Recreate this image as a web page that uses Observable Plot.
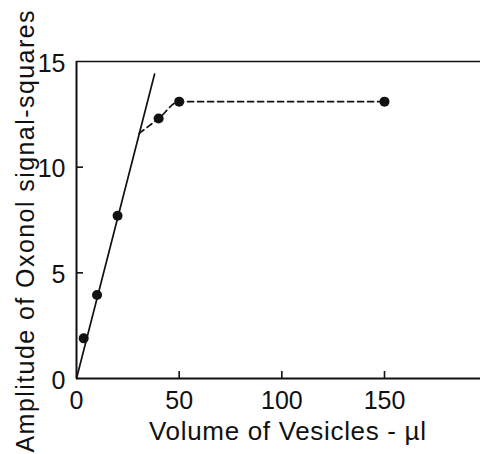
<!DOCTYPE html>
<html>
<head>
<meta charset="utf-8">
<script src="https://cdn.jsdelivr.net/npm/d3@7"></script>
<script src="https://cdn.jsdelivr.net/npm/@observablehq/plot@0.6"></script>
<style>
  html, body { margin: 0; padding: 0; background: #fff; }
</style>
</head>
<body>
<div id="chart"></div>
<script>
// Measured points: vesicle volume (µl) vs. oxonol signal amplitude
const volume = [3.5, 10, 20, 40, 50, 150];
const amplitude = [1.9, 3.95, 7.7, 12.3, 13.1, 13.1];

// Initial linear rise (solid line)
const fitVolume = [0, 38];
const fitAmplitude = [0, 14.4];

// Saturation curve (dashed)
const satVolume = [30.5, 40, 50, 150];
const satAmplitude = [11.6, 12.3, 13.1, 13.1];

// Axis ticks
const xTicks = [0, 50, 100, 150];
const yTicks = [0, 5, 10, 15];
const xInnerTicks = [50, 100, 150];
const yInnerTicks = [5, 10];

const xLabel = "Volume of Vesicles - µl";
const yLabel = "Amplitude of Oxonol signal-squares";

const W = 480, H = 454;
const mL = 76, mR = 0, mT = 61, mB = 76;
const innerW = W - mL - mR, innerH = H - mT - mB;
const xMax = 196.75, yMax = 15;
const tickLen = 7; // px, drawn inward from the axes
const xTickLen = tickLen / innerH * yMax;
const yTickLen = tickLen / innerW * xMax;

const points = volume.map((v, i) => ({v, a: amplitude[i]}));
const fit = fitVolume.map((v, i) => ({v, a: fitAmplitude[i]}));
const sat = satVolume.map((v, i) => ({v, a: satAmplitude[i]}));

const chart = Plot.plot({
  width: W,
  height: H,
  marginLeft: mL,
  marginRight: mR,
  marginTop: mT,
  marginBottom: mB,
  style: {fontFamily: "'Liberation Sans', Arial, sans-serif", color: "#111", background: "#fff"},
  x: {domain: [0, xMax]},
  y: {domain: [0, yMax]},
  marks: [
    // frame: left, bottom and top edges
    Plot.ruleX([0], {y1: 0, y2: yMax, stroke: "#111", strokeWidth: 2}),
    Plot.ruleY([0], {x1: 0, x2: xMax, stroke: "#111", strokeWidth: 2}),
    Plot.ruleY([yMax], {x1: 0, x2: xMax, stroke: "#111", strokeWidth: 1.6}),
    // inward tick marks
    Plot.ruleX(xInnerTicks, {x: d => d, y1: 0, y2: xTickLen, stroke: "#111", strokeWidth: 1.6}),
    Plot.ruleY(yInnerTicks, {y: d => d, x1: 0, x2: yTickLen, stroke: "#111", strokeWidth: 1.6}),
    // tick labels
    Plot.axisX({ticks: xTicks, tickSize: 0, tickPadding: 13, fontSize: 25, label: null}),
    Plot.axisY({ticks: yTicks, tickSize: 0, tickPadding: 11, dy: 2, fontSize: 25, label: null}),
    // fitted initial slope
    Plot.line(fit, {x: "v", y: "a", stroke: "#111", strokeWidth: 1.7}),
    // saturation curve
    Plot.line(sat, {x: "v", y: "a", curve: "monotone-x", stroke: "#111", strokeWidth: 1.7, strokeDasharray: "6,4"}),
    // data points
    Plot.dot(points, {x: "v", y: "a", r: 5, fill: "#111", stroke: "none"}),
    // axis titles
    Plot.text([xLabel], {text: d => d, frameAnchor: "bottom", dx: 9, dy: 61, lineAnchor: "bottom", textAnchor: "middle", fontSize: 26, fill: "#111"}),
    Plot.text([yLabel], {text: d => d, frameAnchor: "left", rotate: -90, dx: -43, dy: 11.5, lineAnchor: "bottom", textAnchor: "middle", fontSize: 25, fill: "#111"})
  ]
});

// widen the titles' letter spacing to their full spans
const svg = d3.select(chart);
svg.selectAll("text").filter(function() { return this.textContent === xLabel; })
  .attr("textLength", 277).attr("lengthAdjust", "spacing");
svg.selectAll("text").filter(function() { return this.textContent === yLabel; })
  .attr("textLength", 442).attr("lengthAdjust", "spacing");

document.getElementById("chart").appendChild(chart);
</script>
</body>
</html>
